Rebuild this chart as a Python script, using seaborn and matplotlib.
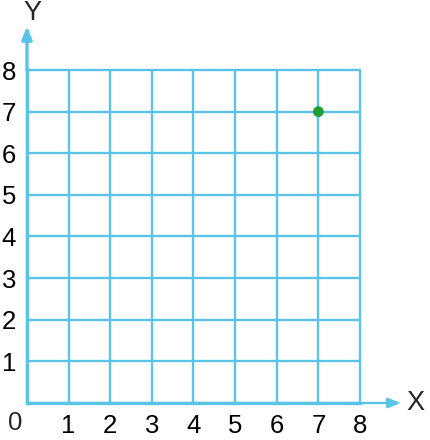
import matplotlib
matplotlib.use("Agg")
import matplotlib.pyplot as plt
import seaborn as sns
import pandas as pd

# Data
x_ticks = [0, 1, 2, 3, 4, 5, 6, 7, 8]
y_ticks = [0, 1, 2, 3, 4, 5, 6, 7, 8]
x_tick_labels = ["", "1", "2", "3", "4", "5", "6", "7", "8"]
y_tick_labels = ["", "1", "2", "3", "4", "5", "6", "7", "8"]
origin_label = "0"
point_x = [7]
point_y = [7]
x_axis_label = "X"
y_axis_label = "Y"

sns.set_style("white")
plt.rcParams['font.family'] = ['Liberation Sans', 'DejaVu Sans']

W, H = 431, 440
fig = plt.figure(figsize=(W / 100, H / 100), dpi=100)
ax = fig.add_axes([27 / W, 37 / H, 333 / W, 333 / H])

grid_color = "#5BC3E8"
ax.set_xlim(0, 8)
ax.set_ylim(0, 8)
ax.set_xticks(x_ticks)
ax.set_yticks(y_ticks)
ax.set_xticklabels(x_tick_labels)
ax.set_yticklabels(y_tick_labels)
ax.tick_params(length=0, labelsize=18.5, colors="black")
ax.tick_params(axis="x", pad=8)
ax.tick_params(axis="y", pad=8)
ax.grid(True, color=grid_color, linewidth=1.7)
ax.set_axisbelow(True)
for gl in ax.get_xgridlines() + ax.get_ygridlines():
    gl.set_clip_on(False)
for s in ["top", "right"]:
    ax.spines[s].set_visible(False)
for s in ["left", "bottom"]:
    ax.spines[s].set_color(grid_color)
    ax.spines[s].set_linewidth(2.4)

df = pd.DataFrame({"x": point_x, "y": point_y})
sns.scatterplot(data=df, x="x", y="y", ax=ax, color="#1E9E34", s=60,
                edgecolor="none", zorder=5, clip_on=False)
ax.set_xlabel("")
ax.set_ylabel("")

# Axis arrows
ax.annotate("", xy=(8.98, 0), xytext=(8, 0), xycoords="data",
            arrowprops=dict(arrowstyle="-|>,head_length=0.75,head_width=0.3",
                            color=grid_color, lw=1.7, shrinkA=0, shrinkB=0),
            annotation_clip=False)
ax.annotate("", xy=(0, 9.05), xytext=(0, 8), xycoords="data",
            arrowprops=dict(arrowstyle="-|>,head_length=0.75,head_width=0.3",
                            color=grid_color, lw=2.4, shrinkA=0, shrinkB=0),
            annotation_clip=False)

ax.text(-0.29, -0.48, origin_label, fontsize=18.5, ha="center", va="center")
ax.text(9.33, 0, x_axis_label, fontsize=19.5, ha="center", va="center")
ax.text(0.14, 9.37, y_axis_label, fontsize=19.5, ha="center", va="center")

fig.savefig("out.png", dpi=100)
